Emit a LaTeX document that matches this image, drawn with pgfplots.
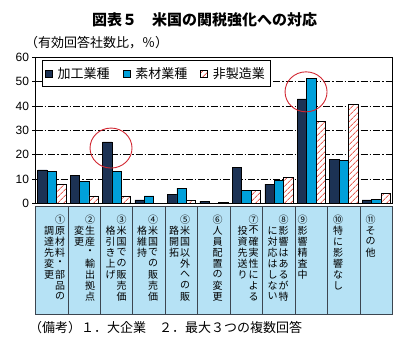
\documentclass[border=0pt]{standalone}
\usepackage{fontspec}
\setmainfont{Liberation Sans}
\newfontfamily\jp{Noto Sans CJK JP}
\usepackage{pgfplots}
\pgfplotsset{compat=1.18}
\usetikzlibrary{patterns.meta}

\definecolor{cdark}{RGB}{28,50,84}
\definecolor{cblue}{RGB}{0,160,218}
\definecolor{chatch}{RGB}{232,100,90}
\definecolor{ctab}{RGB}{182,226,245}
\definecolor{ctabline}{RGB}{60,70,80}
\definecolor{ccircle}{RGB}{210,40,50}

\newcommand{\vcol}[3]{\foreach \c [count=\k from 0] in {#3} {\node[inner sep=0pt, font=\jp\fontsize{10}{10}\selectfont] at (#1pt,{#2pt-\k*11pt}) {\c};}}

\pgfplotsset{sq legend/.style={legend image code/.code={\draw[##1, line width=0.6pt] (0pt,-3.5pt) rectangle (7pt,3.5pt);}}}

\begin{document}
\begin{tikzpicture}
\path[use as bounding box] (0pt,0pt) rectangle (406pt,347pt);
\node[font=\jp\bfseries\fontsize{15}{15}\selectfont] at (204.5pt,327pt) {図表５　米国の関税強化への対応};
\node[anchor=west, font=\jp\fontsize{13}{13}\selectfont, inner sep=0pt] at (25pt,304.5pt) {（有効回答社数比，％）};
\node[anchor=west, font=\jp\fontsize{13}{13}\selectfont, inner sep=0pt] at (29pt,19pt) {（備考）１．大企業　２．最大３つの複数回答};

\begin{axis}[
  at={(35.5pt,143.7pt)}, anchor=south west,
  width=357pt, height=146pt, scale only axis,
  xmin=-0.5, xmax=10.5, ymin=0, ymax=60,
  ytick={0,10,...,60}, xtick=\empty,
  ytick pos=left, tick align=outside, major tick length=3pt,
  ymajorgrids,
  major grid style={black, line width=0.6pt, dash pattern=on 7pt off 2pt on 1.5pt off 2pt},
  axis line style={black, line width=0.8pt},
  tick style={black, line width=0.6pt},
  yticklabel style={font=\fontsize{12}{12}\selectfont},
  /pgf/number format/assume math mode=true,
  ybar=0pt, bar width=9.4pt,
  legend columns=3,
  legend style={at={(rel axis cs:0.0174,0.9815)}, anchor=north west,
    draw=black, line width=0.8pt, font=\jp\fontsize{13}{13}\selectfont,
    inner xsep=3pt, inner ysep=5pt,
    /tikz/every odd column/.append style={column sep=3pt},
    /tikz/every even column/.append style={column sep=11pt}},
]
\addplot[fill=cdark, draw=black, line width=0.6pt, sq legend] coordinates {
 (0,13.7) (1,11.5) (2,25.2) (3,1.4) (4,3.8) (5,0.9) (6,14.8) (7,7.9) (8,42.9) (9,18.2) (10,1.4)};
\addlegendentry{加工業種}
\addplot[fill=cblue, draw=black, line width=0.6pt, sq legend] coordinates {
 (0,13.2) (1,9.0) (2,13.2) (3,3.0) (4,6.2) (5,0) (6,5.3) (7,9.5) (8,51.4) (9,17.7) (10,1.6)};
\addlegendentry{素材業種}
\addplot[fill=white, draw=black, line width=0.6pt, sq legend,
  postaction={pattern={Lines[angle=45,distance=4pt,line width=1pt]}, pattern color=chatch}] coordinates {
 (0,7.8) (1,3.0) (2,3.0) (3,0) (4,1.3) (5,0.5) (6,5.3) (7,10.8) (8,33.8) (9,40.7) (10,4.0)};
\addlegendentry{非製造業}
\draw[ccircle, line width=0.9pt] (axis cs:1.827,22.7) ellipse [x radius=21pt, y radius=20pt];
\draw[ccircle, line width=0.9pt] (axis cs:7.836,45.8) ellipse [x radius=21pt, y radius=20pt];
\end{axis}

\fill[ctab] (35.5pt,33pt) rectangle (392.5pt,141pt);
\draw[ctabline, line width=0.8pt] (35.5pt,33pt) rectangle (392.5pt,141pt);
\foreach \k in {1,...,10} \draw[ctabline, line width=0.8pt] ({35.5pt+\k*32.45pt},33pt) -- ({35.5pt+\k*32.45pt},141pt);

\vcol{60}{127}{①}
\vcol{60}{116.5}{原,材,料,・,部,品,の}
\vcol{49}{116.5}{調,達,先,変,更}
\vcol{90}{127}{②}
\vcol{90}{116.5}{生,産,・,輸,出,拠,点}
\vcol{79}{116.5}{変,更}
\vcol{121.5}{127}{③}
\vcol{121.5}{116.5}{米,国,で,の,販,売,価}
\vcol{110.5}{116.5}{格,引,き,上,げ}
\vcol{153}{127}{④}
\vcol{153}{116.5}{米,国,で,の,販,売,価}
\vcol{142}{116.5}{格,維,持}
\vcol{185}{127}{⑤}
\vcol{185}{116.5}{米,国,以,外,へ,の,販}
\vcol{174}{116.5}{路,開,拓}
\vcol{217.5}{127}{⑥}
\vcol{217.5}{116.5}{人,員,配,置,の,変,更}
\vcol{253.5}{127}{⑦}
\vcol{253.5}{116.5}{不,確,実,性,に,よ,る}
\vcol{242.5}{116.5}{投,資,先,送,り}
\vcol{283.5}{127}{⑧}
\vcol{283.5}{116.5}{影,響,は,あ,る,が,特}
\vcol{272.5}{116.5}{に,対,応,は,し,な,い}
\vcol{302.5}{127}{⑨}
\vcol{302.5}{116.5}{影,響,精,査,中}
\vcol{338}{127}{⑩}
\vcol{338}{116.5}{特,に,影,響,な,し}
\vcol{370.5}{127}{⑪}
\vcol{370.5}{116.5}{そ,の,他}
\end{tikzpicture}
\end{document}
